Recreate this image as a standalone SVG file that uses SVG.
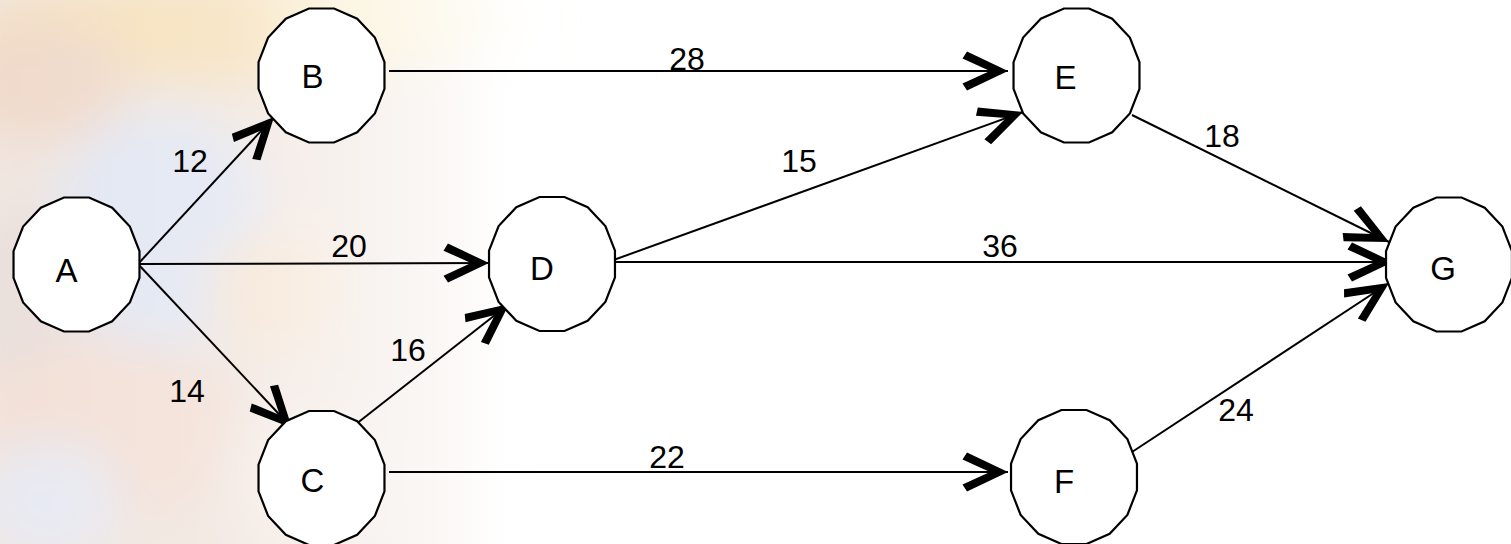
<svg xmlns="http://www.w3.org/2000/svg" xmlns:xlink="http://www.w3.org/1999/xlink" width="1511" height="544" viewBox="0 0 1511 544">
<style>
.node{fill:#fff;stroke:#000;stroke-width:2.2}
.lbl{font-family:"Liberation Sans",Arial,sans-serif;font-size:32px;fill:#000;text-anchor:middle}
.nl{font-family:"Liberation Sans",Arial,sans-serif;font-size:33px;fill:#000;text-anchor:middle}
.edge{stroke:#000;stroke-width:2;fill:none;marker-end:url(#arr)}
</style>
<defs>
<polygon id="poly" points="62.97,13.33 53.38,37.95 35.67,56.79 12.53,66.99 -12.53,66.99 -35.67,56.79 -53.38,37.95 -62.97,13.33 -62.97,-13.33 -53.38,-37.95 -35.67,-56.79 -12.53,-66.99 12.53,-66.99 35.67,-56.79 53.38,-37.95 62.97,-13.33"/>
<marker id="arr" markerUnits="userSpaceOnUse" viewBox="-48 -24 60 48" markerWidth="60" markerHeight="48" refX="6" refY="0" orient="auto" overflow="visible">
<polygon points="6,0 -35,-19.5 -39.5,-12.5 -12,0 -39.5,12.5 -35,19.5" fill="#000"/>
</marker>
<filter id="blur" x="-50%" y="-50%" width="200%" height="200%"><feGaussianBlur stdDeviation="24"/></filter>
<linearGradient id="fade" x1="0" y1="0" x2="1" y2="0">
<stop offset="0" stop-color="#fff" stop-opacity="0.1"/>
<stop offset="0.4" stop-color="#fff" stop-opacity="0.25"/>
<stop offset="1" stop-color="#fff" stop-opacity="1"/>
</linearGradient>
</defs>
<rect width="1511" height="544" fill="#fff"/>
<g id="background" filter="url(#blur)">
<rect x="-40" y="-40" width="520" height="640" fill="#efe3dc"/>
<ellipse cx="230" cy="30" rx="260" ry="55" fill="#f5deb5"/>
<ellipse cx="400" cy="20" rx="130" ry="45" fill="#f9ebc2"/>
<ellipse cx="40" cy="80" rx="90" ry="60" fill="#eed6c5"/>
<ellipse cx="160" cy="230" rx="110" ry="120" fill="#dfe4f1"/>
<ellipse cx="20" cy="300" rx="60" ry="90" fill="#e7dcd8"/>
<ellipse cx="280" cy="290" rx="70" ry="60" fill="#f5e2cf"/>
<ellipse cx="110" cy="430" rx="130" ry="90" fill="#f2ddd2"/>
<ellipse cx="50" cy="500" rx="70" ry="60" fill="#e5e7f1"/>
<ellipse cx="300" cy="470" rx="80" ry="70" fill="#f3e8e2"/>
</g>
<rect x="0" y="0" width="560" height="544" fill="url(#fade)"/>
<g id="connectors">
<line class="edge" x1="138" y1="264" x2="274" y2="117"/>
<line class="edge" x1="138" y1="264" x2="489" y2="263"/>
<line class="edge" x1="138" y1="264" x2="292" y2="428"/>
<line class="edge" x1="351" y1="428" x2="509" y2="304"/>
<line class="edge" x1="389" y1="71" x2="1008" y2="71"/>
<line class="edge" x1="608" y1="262" x2="1023" y2="112"/>
<line class="edge" x1="608" y1="262" x2="1393" y2="262"/>
<line class="edge" x1="1132" y1="115" x2="1389" y2="242"/>
<line class="edge" x1="1132" y1="452" x2="1389" y2="283"/>
<line class="edge" x1="389" y1="472" x2="1008" y2="472"/>
</g>
<g id="node-A" transform="translate(76.5,264.5)"><use xlink:href="#poly" class="node"/><text class="nl" x="-10" y="17">A</text></g>
<g id="node-B" transform="translate(321.5,75.5)"><use xlink:href="#poly" class="node"/><text class="nl" x="-9" y="12">B</text></g>
<g id="node-C" transform="translate(321.5,478)"><use xlink:href="#poly" class="node"/><text class="nl" x="-9" y="14">C</text></g>
<g id="node-D" transform="translate(552,264)"><use xlink:href="#poly" class="node"/><text class="nl" x="-10" y="16">D</text></g>
<g id="node-E" transform="translate(1076.5,75.5)"><use xlink:href="#poly" class="node"/><text class="nl" x="-11" y="13">E</text></g>
<g id="node-F" transform="translate(1074,477)"><use xlink:href="#poly" class="node"/><text class="nl" x="-10" y="16">F</text></g>
<g id="node-G" transform="translate(1449,264.5)"><use xlink:href="#poly" class="node"/><text class="nl" x="-6" y="15">G</text></g>
<g id="labels">
<text class="lbl" x="687" y="70">28</text>
<text class="lbl" x="190" y="172">12</text>
<text class="lbl" x="349" y="257">20</text>
<text class="lbl" x="187" y="402">14</text>
<text class="lbl" x="408" y="361">16</text>
<text class="lbl" x="667" y="468">22</text>
<text class="lbl" x="799" y="172">15</text>
<text class="lbl" x="1000" y="257">36</text>
<text class="lbl" x="1222" y="147">18</text>
<text class="lbl" x="1236" y="421">24</text>
</g>
</svg>
